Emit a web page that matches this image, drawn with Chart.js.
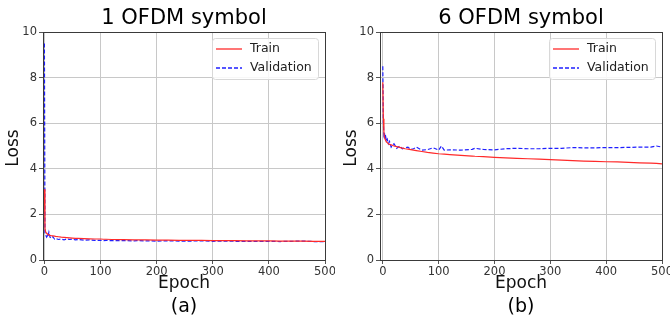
<!DOCTYPE html>
<html>
<head>
<meta charset="utf-8">
<script src="https://cdn.jsdelivr.net/npm/chart.js@4.4.1/dist/chart.umd.min.js"></script>
<style>
  html, body { margin: 0; padding: 0; background: #fff; }
  .wrap { position: absolute; top: 0; width: 335px; height: 320px; }
</style>
</head>
<body>
<div class="wrap" style="left:0"><canvas id="chartA"></canvas></div>
<div class="wrap" style="left:335px"><canvas id="chartB"></canvas></div>
<script>
// ── Data ────────────────────────────────────────────────────
const epochs = [0, 1, 2, 3, 4, 5, 6, 8, 10, 12, 15, 18, 20, 25, 30, 35, 40, 45, 50, 55, 60, 70, 80, 90, 100, 105, 110, 120, 140, 160, 165, 180, 200, 220, 240, 260, 280, 300, 320, 340, 360, 380, 400, 420, 440, 460, 480, 490, 500];

const trainA = [3.1, 1.4, 1.25, 1.2, 1.17, 1.15, 1.13, 1.1, 1.08, 1.07, 1.06, 1.05, 1.04, 1.02, 1.0, 0.99, 0.98, 0.97, 0.96, 0.95, 0.95, 0.94, 0.93, 0.92, 0.92, 0.91, 0.91, 0.9, 0.89, 0.88, 0.88, 0.88, 0.87, 0.87, 0.86, 0.86, 0.86, 0.85, 0.85, 0.85, 0.84, 0.84, 0.84, 0.83, 0.83, 0.83, 0.82, 0.82, 0.82];
const valA   = [9.5, 1.2, 1.1, 1.05, 1.0, 1.05, 1.0, 1.22, 1.0, 0.95, 1.02, 0.92, 0.95, 0.9, 0.92, 0.88, 0.93, 0.9, 0.92, 0.88, 0.9, 0.87, 0.88, 0.86, 0.86, 0.85, 0.86, 0.85, 0.85, 0.84, 0.85, 0.84, 0.83, 0.84, 0.83, 0.83, 0.84, 0.82, 0.83, 0.82, 0.82, 0.82, 0.82, 0.81, 0.82, 0.83, 0.81, 0.81, 0.81];

const trainB = [7.8, 6.2, 5.6, 5.4, 5.3, 5.25, 5.2, 5.15, 5.1, 5.07, 5.05, 5.02, 5.0, 4.97, 4.94, 4.91, 4.88, 4.86, 4.84, 4.82, 4.8, 4.76, 4.72, 4.69, 4.66, 4.65, 4.64, 4.62, 4.59, 4.56, 4.55, 4.53, 4.5, 4.48, 4.46, 4.44, 4.42, 4.4, 4.38, 4.36, 4.34, 4.33, 4.31, 4.3, 4.28, 4.26, 4.25, 4.24, 4.22];
const valB   = [8.5, 6.0, 5.5, 5.6, 5.3, 5.5, 5.2, 5.3, 5.1, 5.2, 4.95, 5.05, 5.1, 4.9, 5.0, 4.88, 4.92, 4.95, 4.85, 4.88, 4.95, 4.82, 4.84, 4.92, 4.82, 5.0, 4.82, 4.83, 4.82, 4.85, 4.9, 4.85, 4.83, 4.88, 4.9, 4.88, 4.88, 4.9, 4.9, 4.93, 4.92, 4.92, 4.93, 4.93, 4.94, 4.95, 4.95, 5.0, 4.95];

const xTicks = [0, 100, 200, 300, 400, 500];
const yTicks = [0, 2, 4, 6, 8, 10];
const seriesNames = ['Train', 'Validation'];

const FONT = '"DejaVu Sans", sans-serif';
const RED  = '#ff2a2a';
const BLUE = '#1f1fff';

// ── Frame, titles, axis labels and legend drawn on top ──────
const decor = {
    id: 'decor',
    afterDraw(chart, args, opts) {
        const { ctx, chartArea: a } = chart;
        const cx = (a.left + a.right) / 2;
        ctx.save();
        ctx.strokeStyle = '#3a3a3a';
        ctx.lineWidth = 1;
        ctx.strokeRect(a.left + 0.5, a.top + 0.5, a.right - a.left, a.bottom - a.top);

        ctx.fillStyle = '#000';
        ctx.textAlign = 'center';
        ctx.textBaseline = 'middle';
        ctx.font = '21px ' + FONT;
        ctx.fillText(opts.title, cx, 19);
        ctx.font = '19px ' + FONT;
        ctx.fillText(opts.sub, cx, 307);
        ctx.font = '17px ' + FONT;
        ctx.fillStyle = '#111';
        ctx.fillText('Epoch', cx, 284);
        ctx.save();
        ctx.translate(opts.lossX, 148);
        ctx.rotate(-Math.PI / 2);
        ctx.fillText('Loss', 0, 0);
        ctx.restore();

        // legend
        const bw = 106, bh = 41;
        const bx = a.right - bw - 7, by = a.top + 6;
        ctx.fillStyle = 'rgba(255,255,255,0.85)';
        ctx.strokeStyle = '#d8d8d8';
        ctx.beginPath();
        ctx.roundRect(bx + 0.5, by + 0.5, bw, bh, 3);
        ctx.fill();
        ctx.stroke();
        const rows = [[RED, []], [BLUE, [4, 2]]];
        rows.forEach(([c, dash], i) => {
            const yy = by + 11 + i * 19;
            ctx.strokeStyle = c;
            ctx.lineWidth = 1.3;
            ctx.setLineDash(dash);
            ctx.beginPath();
            ctx.moveTo(bx + 4, yy);
            ctx.lineTo(bx + 30, yy);
            ctx.stroke();
            ctx.setLineDash([]);
            ctx.fillStyle = '#222';
            ctx.textAlign = 'left';
            ctx.font = '12.5px ' + FONT;
            ctx.fillText(seriesNames[i], bx + 38, yy);
        });
        ctx.restore();
    }
};

function makeChart(id, train, val, title, sub, xMin, leftW, rightPad, lossX) {
    const pts = arr => epochs.map((e, i) => ({ x: e, y: arr[i] }));
    return new Chart(document.getElementById(id), {
        type: 'line',
        data: {
            datasets: [
                { label: seriesNames[0], data: pts(train), borderColor: RED, borderWidth: 1.2, pointRadius: 0, tension: 0 },
                { label: seriesNames[1], data: pts(val), borderColor: BLUE, borderWidth: 1.2, borderDash: [4, 2], pointRadius: 0, tension: 0 },
            ],
        },
        options: {
            responsive: true,
            maintainAspectRatio: false,
            animation: false,
            layout: { padding: { top: 32, right: rightPad, left: 0, bottom: 0 } },
            plugins: {
                legend: { display: false },
                tooltip: { enabled: false },
                decor: { title, sub, lossX },
            },
            scales: {
                x: {
                    type: 'linear', min: xMin, max: 500,
                    afterBuildTicks: s => { s.ticks = xTicks.map(v => ({ value: v })); },
                    afterFit: s => { s.height = 60; s.paddingLeft = 0; s.paddingRight = 0; },
                    grid: { color: '#c8c8c8', tickLength: 4, tickColor: '#555' },
                    border: { display: false },
                    ticks: { color: '#333', font: { family: FONT, size: 11.5 }, padding: 1, maxRotation: 0 },
                },
                y: {
                    min: 0, max: 10,
                    afterBuildTicks: s => { s.ticks = yTicks.map(v => ({ value: v })); },
                    afterFit: s => { s.width = leftW; s.paddingTop = 0; s.paddingBottom = 0; },
                    grid: { color: '#c8c8c8', tickLength: 4, tickColor: '#555' },
                    border: { display: false },
                    ticks: { color: '#333', font: { family: FONT, size: 11.5 }, padding: 2 },
                },
            },
        },
        plugins: [decor],
    });
}

makeChart('chartA', trainA, valA, '1 OFDM symbol', '(a)', -2.5, 43, 10, 14);
makeChart('chartB', trainB, valB, '6 OFDM symbol', '(b)', -5, 45, 8, 17);
</script>
</body>
</html>
